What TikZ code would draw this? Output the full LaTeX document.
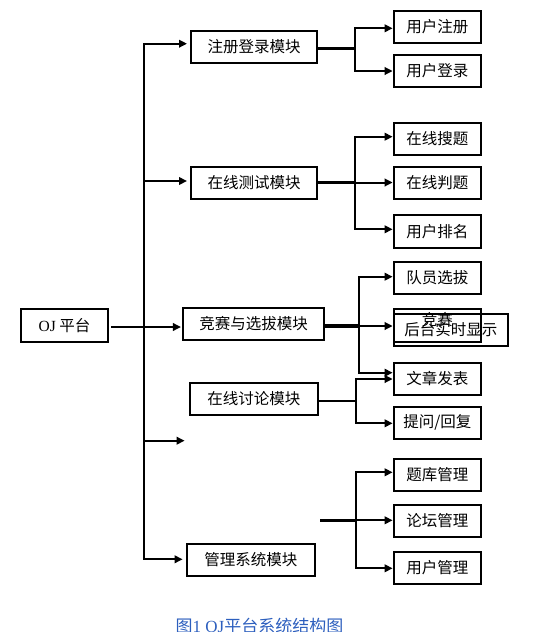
\documentclass[tikz,border=0pt]{standalone}
\usepackage{fontspec}
\setmainfont{Noto Sans CJK SC}
\newfontfamily\lat{Liberation Serif}
\usetikzlibrary{arrows.meta}
\definecolor{capblue}{RGB}{45,95,190}
\tikzset{
  box/.style={draw, line width=2pt, inner sep=0pt, minimum height=32.5pt,
    font=\fontsize{15.5}{18}\selectfont},
  leaf/.style={box, minimum width=87.3pt},
  ln/.style={line width=2pt, line cap=rect},
  thk/.style={line width=3.2pt},
  arr/.style={line width=2pt, -{Triangle[length=8pt,width=7.5pt]}},
}
\begin{document}
\begin{tikzpicture}[x=1pt,y=-1pt]
\useasboundingbox (0,0) rectangle (541,632);
% root
\node[box, minimum width=87.7pt, minimum height=33.3pt] (oj) at (64.5,325.7) {{\lat OJ} 平台};
% modules
\node[box, minimum width=126pt] (m1) at (254,46.8) {注册登录模块};
\node[box, minimum width=126pt] (m2) at (254,183) {在线测试模块};
\node[box, minimum width=140.5pt, minimum height=31.7pt] (m3) at (253.7,323.8) {竞赛与选拔模块};
\node[box, minimum width=128pt, minimum height=32pt] (m4) at (253.8,399) {在线讨论模块};
\node[box, minimum width=128.4pt, minimum height=32pt] (m5) at (250.8,559.7) {管理系统模块};
% leaves
\node[leaf] (l1) at (437.3,27) {用户注册};
\node[leaf] (l2) at (437.3,70.8) {用户登录};
\node[leaf] (l3) at (437.3,138.8) {在线搜题};
\node[leaf] (l4) at (437.3,182.8) {在线判题};
\node[leaf] (l5) at (437.3,231.5) {用户排名};
\node[leaf] (l6) at (437.3,277.8) {队员选拔};
\node[leaf] (l7) at (437.3,325.7) {\smash{竞赛}};
\node[box, minimum width=114.3pt] (l8) at (450.8,329.8) {后台实时显示};
\node[leaf] (l9) at (437.3,378.8) {文章发表};
\node[leaf] (l10) at (437.3,422.8) {提问/回复};
\node[leaf] (l11) at (437.3,474.8) {题库管理};
\node[leaf] (l12) at (437.3,521) {论坛管理};
\node[leaf] (l13) at (437.3,567.8) {用户管理};
% caption
\node[font=\fontsize{17}{20}\selectfont, text=capblue] (cap) at (259.5,626) {图{\lat 1 OJ}平台系统结构图};
% trunk
\coordinate (jt1) at (143.5,43.7);
\coordinate (jt2) at (143.5,181);
\coordinate (jt3) at (143.5,327);
\coordinate (jt4) at (143.5,440.7);
\coordinate (jt5) at (143.5,559.3);
\coordinate (fe) at (184.6,440.7);
\draw[ln] (jt1) -- (jt5);
\draw[line width=2pt, shorten <=2pt] (jt3 -| oj.east) -- (jt3);
\draw[arr, shorten >=3pt] (jt1) -- (jt1 -| m1.west);
\draw[arr, shorten >=3pt] (jt2) -- (jt2 -| m2.west);
\draw[arr, shorten >=1.5pt] (jt3) -- (jt3 -| m3.west);
\draw[arr] (jt4) -- (fe);
\draw[arr, shorten >=3pt] (jt5) -- (jt5 -| m5.west);
% module 1
\coordinate (j1a) at (355,28.3);
\coordinate (j1b) at (355,71);
\coordinate (j1c) at (355,48.7);
\draw[thk] (j1c -| m1.east) -- (j1c);
\draw[ln] (j1a) -- (j1b);
\draw[arr] (j1a) -- (j1a -| l1.west);
\draw[arr] (j1b) -- (j1b -| l2.west);
% module 2
\coordinate (j2a) at (355.4,136.7);
\coordinate (j2b) at (355.4,229.3);
\coordinate (j2c) at (355.4,182.5);
\draw[thk] (j2c -| m2.east) -- (j2c);
\draw[ln] (j2a) -- (j2b);
\draw[arr] (j2a) -- (j2a -| l3.west);
\draw[arr] (j2c) -- (j2c -| l4.west);
\draw[arr] (j2b) -- (j2b -| l5.west);
% module 3
\coordinate (j3a) at (359,276.7);
\coordinate (j3b) at (359,372.7);
\coordinate (j3c) at (359,326);
\draw[thk] (j3c -| m3.east) -- (j3c);
\draw[ln] (j3a) -- (j3b);
\draw[arr] (j3a) -- (j3a -| l6.west);
\draw[arr] (j3c) -- (j3c -| l7.west);
\draw[arr] (j3b) -- (j3b -| l9.west);
% module 4
\coordinate (j4a) at (356,379);
\coordinate (j4b) at (356,423.3);
\coordinate (j4c) at (356,400.7);
\draw[line width=2pt] (j4c -| m4.east) -- (j4c);
\draw[ln] (j4a) -- (j4b);
\draw[arr] (j4a) -- (j4a -| l9.west);
\draw[arr] (j4b) -- (j4b -| l10.west);
% module 5 (floating)
\coordinate (f0) at (320,520.3);
\coordinate (j5a) at (356,472.3);
\coordinate (j5b) at (356,568.3);
\coordinate (j5c) at (356,520.3);
\draw[thk] (f0) -- (j5c);
\draw[ln] (j5a) -- (j5b);
\draw[arr] (j5a) -- (j5a -| l11.west);
\draw[arr] (j5c) -- (j5c -| l12.west);
\draw[arr] (j5b) -- (j5b -| l13.west);
\end{tikzpicture}
\end{document}
